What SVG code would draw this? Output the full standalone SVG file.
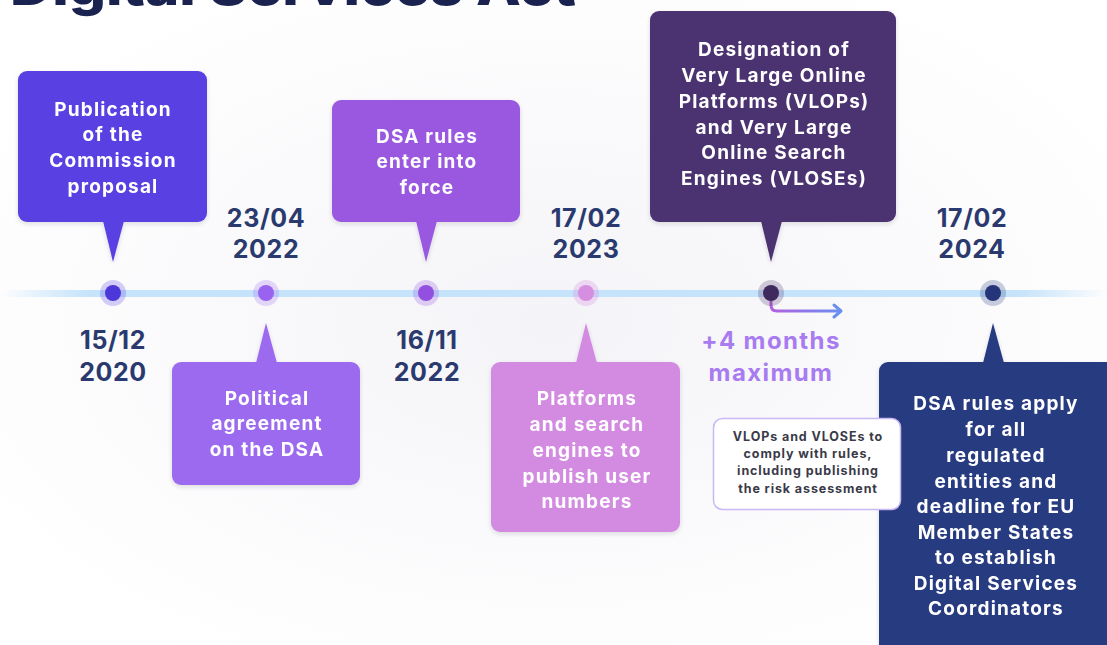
<svg xmlns="http://www.w3.org/2000/svg" width="1107" height="645" viewBox="0 0 1107 645">
  <defs>
    <style>
      .lbl { font-family: Inter, "Liberation Sans", sans-serif; font-weight: 700; fill: #ffffff; font-size: 19px; letter-spacing: 1.2px; text-anchor: middle; }
      .date { font-family: Inter, "Liberation Sans", sans-serif; font-weight: 700; fill: #2b3a6e; font-size: 25px; letter-spacing: 0.6px; text-anchor: middle; }
      .note { font-family: Inter, "Liberation Sans", sans-serif; font-weight: 700; fill: #3a3a48; font-size: 12.5px; letter-spacing: 0.9px; text-anchor: middle; }
      .plus { font-family: Inter, "Liberation Sans", sans-serif; font-weight: 700; fill: #a97bf0; font-size: 24px; letter-spacing: 1.4px; text-anchor: middle; }
      .title { font-family: Inter, "Liberation Sans", sans-serif; font-weight: 800; fill: #1a2350; font-size: 52px; }
    </style>
    <linearGradient id="lineGrad" x1="0" y1="0" x2="1" y2="0">
      <stop offset="0" stop-color="#c5e3fb" stop-opacity="0"/>
      <stop offset="0.08" stop-color="#c5e3fb"/>
      <stop offset="0.92" stop-color="#c5e3fb"/>
      <stop offset="1" stop-color="#c5e3fb" stop-opacity="0"/>
    </linearGradient>
    <linearGradient id="arrowGrad" x1="0" y1="0" x2="1" y2="0">
      <stop offset="0" stop-color="#b45fe0"/>
      <stop offset="1" stop-color="#6a8ff0"/>
    </linearGradient>
    <radialGradient id="bgGlow" cx="0.5" cy="0.5" r="0.6">
      <stop offset="0" stop-color="#f4f4f8"/>
      <stop offset="1" stop-color="#ffffff"/>
    </radialGradient>
    <filter id="shadow" x="-10%" y="-10%" width="120%" height="130%">
      <feDropShadow dx="0" dy="2" stdDeviation="2" flood-color="#202040" flood-opacity="0.15"/>
    </filter>
  </defs>

  <!-- background -->
  <rect x="0" y="0" width="1107" height="645" fill="url(#bgGlow)"/>

  <!-- heading (clipped at the top edge) -->
  <text class="title" x="10" y="5" textLength="566" lengthAdjust="spacingAndGlyphs">Digital Services Act</text>

  <!-- timeline axis and connectors -->
  <g id="connectors">
    <rect x="0" y="290" width="1107" height="7" fill="url(#lineGrad)"/>
    <path d="M771 296 V305 Q771 311 777 311 H840" fill="none" stroke="url(#arrowGrad)" stroke-width="3"/>
    <path d="M834 305 L841 311 L834 317" fill="none" stroke="#6a8ff0" stroke-width="3" stroke-linecap="round" stroke-linejoin="round"/>
  </g>

  <!-- milestone dots -->
  <g id="dots">
    <circle cx="113" cy="293" r="13" fill="#5840e3" opacity="0.25"/>
    <circle cx="113" cy="293" r="8" fill="#4c37d8"/>
    <circle cx="266" cy="293" r="13" fill="#9b6bef" opacity="0.25"/>
    <circle cx="266" cy="293" r="8" fill="#9a63ef"/>
    <circle cx="426" cy="293" r="13" fill="#9150e0" opacity="0.25"/>
    <circle cx="426" cy="293" r="8" fill="#9150e0"/>
    <circle cx="586" cy="293" r="13" fill="#d68ee0" opacity="0.3"/>
    <circle cx="586" cy="293" r="8" fill="#d68ee0"/>
    <circle cx="771" cy="293" r="13" fill="#4b3270" opacity="0.25"/>
    <circle cx="771" cy="293" r="8" fill="#3f2a5e"/>
    <circle cx="993" cy="293" r="13" fill="#283a80" opacity="0.25"/>
    <circle cx="993" cy="293" r="8" fill="#25357a"/>
  </g>

  <!-- dates -->
  <g id="dates">
    <text class="date" x="113" y="349">15/12</text>
    <text class="date" x="113" y="381">2020</text>
    <text class="date" x="266" y="227">23/04</text>
    <text class="date" x="266" y="258">2022</text>
    <text class="date" x="427" y="349">16/11</text>
    <text class="date" x="427" y="381">2022</text>
    <text class="date" x="586" y="227">17/02</text>
    <text class="date" x="586" y="258">2023</text>
    <text class="date" x="972" y="227">17/02</text>
    <text class="date" x="972" y="258">2024</text>
  </g>

  <!-- node: publication of the proposal -->
  <g id="node-proposal" filter="url(#shadow)">
    <rect x="18" y="71" width="189" height="151" rx="9" fill="#5840e3"/>
    <polygon points="103,221 124,221 113,262" fill="#5840e3"/>
    <text class="lbl" x="113" y="116">Publication</text>
    <text class="lbl" x="113" y="141">of the</text>
    <text class="lbl" x="113" y="167">Commission</text>
    <text class="lbl" x="113" y="193">proposal</text>
  </g>

  <!-- node: political agreement -->
  <g id="node-agreement" filter="url(#shadow)">
    <rect x="172" y="362" width="188" height="123" rx="9" fill="#9b6bef"/>
    <polygon points="256,363 277,363 266,323" fill="#9b6bef"/>
    <text class="lbl" x="267" y="405">Political</text>
    <text class="lbl" x="267" y="430">agreement</text>
    <text class="lbl" x="267" y="456">on the DSA</text>
  </g>

  <!-- node: entry into force -->
  <g id="node-force" filter="url(#shadow)">
    <rect x="332" y="100" width="188" height="122" rx="9" fill="#9a59e0"/>
    <polygon points="416,221 437,221 426,262" fill="#9a59e0"/>
    <text class="lbl" x="427" y="143">DSA rules</text>
    <text class="lbl" x="427" y="168">enter into</text>
    <text class="lbl" x="427" y="194">force</text>
  </g>

  <!-- node: user numbers -->
  <g id="node-users" filter="url(#shadow)">
    <rect x="491" y="362" width="189" height="170" rx="9" fill="#d28be0"/>
    <polygon points="576,363 597,363 586,323" fill="#d28be0"/>
    <text class="lbl" x="587" y="405">Platforms</text>
    <text class="lbl" x="587" y="431">and search</text>
    <text class="lbl" x="587" y="457">engines to</text>
    <text class="lbl" x="587" y="483">publish user</text>
    <text class="lbl" x="587" y="508">numbers</text>
  </g>

  <!-- node: designation of VLOPs / VLOSEs -->
  <g id="node-designation" filter="url(#shadow)">
    <rect x="650" y="11" width="246" height="211" rx="9" fill="#4b3270"/>
    <polygon points="761,221 782,221 771,262" fill="#4b3270"/>
    <text class="lbl" x="774" y="56">Designation of</text>
    <text class="lbl" x="774" y="82">Very Large Online</text>
    <text class="lbl" x="774" y="108">Platforms (VLOPs)</text>
    <text class="lbl" x="774" y="134">and Very Large</text>
    <text class="lbl" x="774" y="159">Online Search</text>
    <text class="lbl" x="774" y="185">Engines (VLOSEs)</text>
  </g>

  <!-- +4 months label -->
  <g id="node-delay">
    <text class="plus" x="771" y="349">+4 months</text>
    <text class="plus" x="771" y="381">maximum</text>
  </g>

  <!-- node: rules apply to all -->
  <g id="node-apply" filter="url(#shadow)">
    <rect x="879" y="362" width="240" height="300" rx="9" fill="#283a80"/>
    <polygon points="983,363 1004,363 993,323" fill="#283a80"/>
    <text class="lbl" x="996" y="410">DSA rules apply</text>
    <text class="lbl" x="996" y="436">for all</text>
    <text class="lbl" x="996" y="462">regulated</text>
    <text class="lbl" x="996" y="488">entities and</text>
    <text class="lbl" x="996" y="513">deadline for EU</text>
    <text class="lbl" x="996" y="539">Member States</text>
    <text class="lbl" x="996" y="564">to establish</text>
    <text class="lbl" x="996" y="590">Digital Services</text>
    <text class="lbl" x="996" y="615">Coordinators</text>
  </g>

  <!-- node: compliance note (sits over the navy panel) -->
  <g id="node-compliance">
    <rect x="713.5" y="418.5" width="187" height="91" rx="9" fill="#ffffff" stroke="#c9b8f2" stroke-width="1.5"/>
    <text class="note" x="808" y="441">VLOPs and VLOSEs to</text>
    <text class="note" x="808" y="458">comply with rules,</text>
    <text class="note" x="808" y="475">including publishing</text>
    <text class="note" x="808" y="493">the risk assessment</text>
  </g>
</svg>
